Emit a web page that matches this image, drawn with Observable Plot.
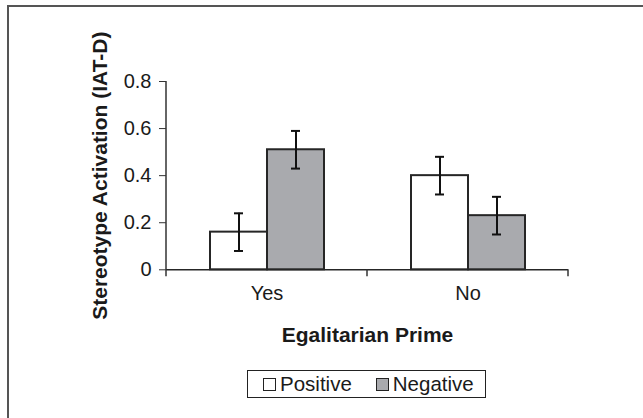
<!DOCTYPE html>
<html>
<head>
<meta charset="utf-8">
<script src="https://cdn.jsdelivr.net/npm/d3@7"></script>
<script src="https://cdn.jsdelivr.net/npm/@observablehq/plot@0.6"></script>
<style>
  html, body { margin: 0; padding: 0; background: #fff; overflow: hidden; width: 643px; height: 418px; }
  #frame { position: absolute; left: 7px; top: 5px; width: 700px; height: 500px; border: 2px solid #555; box-sizing: border-box; }
  #chart { position: absolute; left: 0; top: 0; }
  #chart g[aria-label="y-axis tick label"], #chart g[aria-label="fx-axis tick label"] { font-size: 20px; fill: #1a1a1a; }
  #chart g[aria-label="y-axis label"], #chart g[aria-label="fx-axis label"] { font-weight: bold; font-size: 21px; fill: #1a1a1a; }
  #legend { position: absolute; left: 247px; top: 370px; width: 239px; height: 28px; border: 1.5px solid #222; box-sizing: border-box;
            display: flex; align-items: center; font-family: "Liberation Sans", Arial, sans-serif; font-size: 20.5px; color: #1a1a1a; }
  .item { display: flex; align-items: center; }
  .sw { width: 13px; height: 13px; border: 1.5px solid #222; box-sizing: border-box; margin-right: 4px; }
</style>
</head>
<body>
<div id="frame"></div>
<div id="chart"></div>
<div id="legend"></div>
<script>
const primes = ["Yes", "No"];
const valences = ["Positive", "Negative"];
const positiveMeans = [0.16, 0.40];
const negativeMeans = [0.51, 0.23];
const positiveErr = [0.08, 0.08];
const negativeErr = [0.08, 0.08];
const yTicks = [0, 0.2, 0.4, 0.6, 0.8];
const yLabel = "Stereotype Activation (IAT-D)";
const xLabel = "Egalitarian Prime";
const fills = ["#ffffff", "#a9aaae"];

const data = primes.flatMap((p, i) => [
  {prime: p, valence: valences[0], mean: positiveMeans[i], err: positiveErr[i]},
  {prime: p, valence: valences[1], mean: negativeMeans[i], err: negativeErr[i]}
]);

const chart = Plot.plot({
  width: 643,
  height: 360,
  marginLeft: 165,
  marginRight: 75,
  marginTop: 81,
  marginBottom: 90.7,
  style: {fontFamily: "Liberation Sans, Arial, sans-serif", fontSize: "20px", color: "#1a1a1a", background: "transparent"},
  fx: {domain: primes, padding: 0, label: null},
  x: {domain: valences, paddingInner: 0, paddingOuter: 0.733, axis: null},
  y: {domain: [0, 0.8]},
  color: {domain: valences, range: fills},
  marks: [
    Plot.barY(data, {fx: "prime", x: "valence", y: "mean", fill: "valence", stroke: "#262626", strokeWidth: 2}),
    Plot.ruleY([0], {stroke: "#262626", strokeWidth: 1.5}),
    Plot.ruleX(data, {fx: "prime", x: "valence", y1: d => d.mean - d.err, y2: d => d.mean + d.err, stroke: "#111", strokeWidth: 2}),
    Plot.tickY(data, {fx: "prime", x: "valence", y: d => d.mean - d.err, insetLeft: 24, insetRight: 24, stroke: "#111", strokeWidth: 2}),
    Plot.tickY(data, {fx: "prime", x: "valence", y: d => d.mean + d.err, insetLeft: 24, insetRight: 24, stroke: "#111", strokeWidth: 2}),
    Plot.axisY({ticks: yTicks, tickFormat: d => d === 0 ? "0" : d.toFixed(1), tickSize: 7, tickPadding: 8,
                label: yLabel, labelArrow: "none", labelAnchor: "center", labelOffset: 74, stroke: "#333"}),
    Plot.axisFx({anchor: "bottom", tickSize: 0, tickPadding: 16, label: xLabel, labelAnchor: "center", labelOffset: 72})
  ]
});
document.getElementById("chart").appendChild(chart);

// y-axis line and category boundary ticks drawn from the plot's own scales
const fx = chart.scale("fx");
const y = chart.scale("y");
const svg = d3.select(chart);
const edges = fx.domain.map(d => fx.apply(d)).concat([fx.apply(fx.domain[fx.domain.length - 1]) + fx.bandwidth]);
const g = svg.append("g").attr("stroke", "#333").attr("stroke-width", 1.5);
g.append("line").attr("x1", edges[0]).attr("x2", edges[0]).attr("y1", y.apply(yTicks[yTicks.length - 1])).attr("y2", y.apply(0) + 7);
edges.slice(1).forEach(x => g.append("line").attr("x1", x).attr("x2", x).attr("y1", y.apply(0)).attr("y2", y.apply(0) + 7));

// legend
const legend = document.getElementById("legend");
valences.forEach((v, i) => {
  const item = document.createElement("div");
  item.className = "item";
  item.style.marginLeft = i === 0 ? "15px" : "24px";
  const sw = document.createElement("div");
  sw.className = "sw";
  sw.style.background = fills[i];
  const t = document.createElement("span");
  t.textContent = v;
  item.appendChild(sw);
  item.appendChild(t);
  legend.appendChild(item);
});
</script>
</body>
</html>
